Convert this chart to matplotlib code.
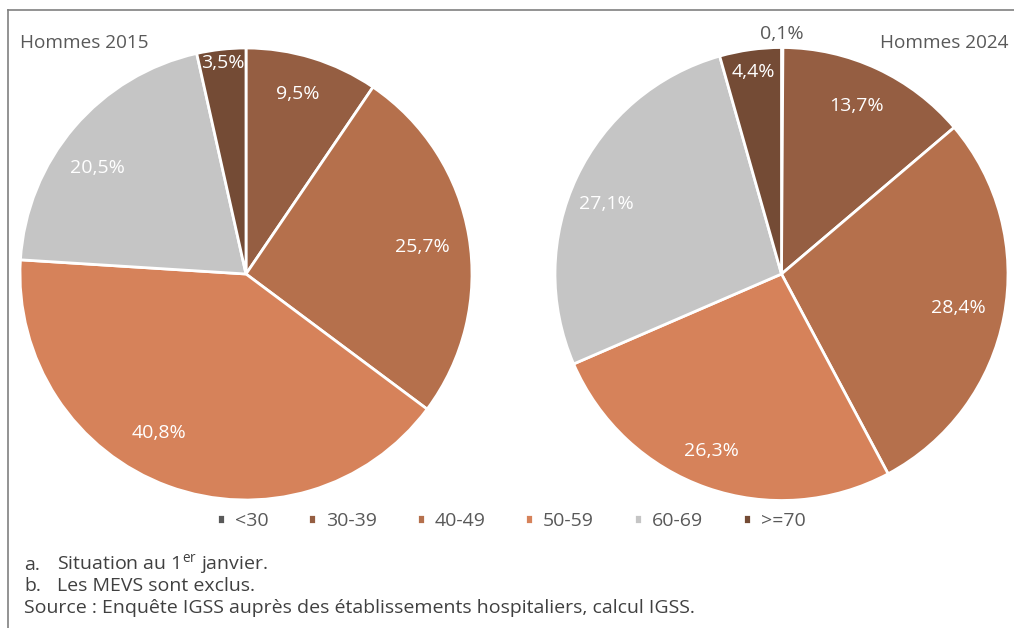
import numpy as np
import matplotlib
matplotlib.use("Agg")
import matplotlib.pyplot as plt
from matplotlib.lines import Line2D

plt.rcParams['font.family'] = ['Open Sans', 'DejaVu Sans']
plt.rcParams['mathtext.fontset'] = 'custom'
plt.rcParams['mathtext.rm'] = 'Open Sans'

# data
categories = ["<30", "30-39", "40-49", "50-59", "60-69", ">=70"]
hommes_2015 = [0.0, 9.5, 25.7, 40.8, 20.5, 3.5]
hommes_2024 = [0.1, 13.7, 28.4, 26.3, 27.1, 4.4]
colors = ["#595959", "#955E42", "#B5704C", "#D6825A", "#C5C5C5", "#744B35"]
gray = "#595959"

W, H = 1014, 628
fig = plt.figure(figsize=(W / 100, H / 100), dpi=100)


def pie_axes(cx, cy, r):
    ax = fig.add_axes([(cx - r) / W, 1 - (cy + r) / H, 2 * r / W, 2 * r / H])
    ax.axis("off")
    return ax


def draw_pie(ax, values, dist, shift):
    # dist: label distance (radius units), shift: angle tweak in degrees
    wedges, _ = ax.pie(values, colors=colors, startangle=90, counterclock=False,
                       radius=1, wedgeprops=dict(edgecolor="white", linewidth=2))
    ax.set_xlim(-1, 1)
    ax.set_ylim(-1, 1)
    for w, v, d, s in zip(wedges, values, dist, shift):
        if v <= 0:
            continue
        ang = np.deg2rad((w.theta1 + w.theta2) / 2 + s)
        col = "white" if d < 1 else gray
        ax.text(d * np.cos(ang), d * np.sin(ang), f"{v:.1f}%".replace(".", ","),
                ha="center", va="center", fontsize=14, color=col)
    return wedges


ax1 = pie_axes(246, 274, 226)
wedges = draw_pie(ax1, hommes_2015, [0, 0.83, 0.79, 0.80, 0.805, 0.94],
                  [0, 1, -1, -8.5, 5, 0])
ax2 = pie_axes(781.5, 274, 226.5)
draw_pie(ax2, hommes_2024, [1.06, 0.81, 0.795, 0.84, 0.834, 0.90],
         [0, 1, 0, -2.4, 3.7, 0])

fig.text(20 / W, 1 - 43 / H, "Hommes 2015", fontsize=13.7, color=gray, va="center")
fig.text(1008 / W, 1 - 43 / H, "Hommes 2024", fontsize=13.7, color=gray,
         va="center", ha="right")

fig.legend(wedges, categories, loc="center", bbox_to_anchor=(511 / W, 1 - 521 / H),
           ncol=6, frameon=False, fontsize=14, handlelength=0.42, handleheight=0.42,
           handletextpad=0.5, columnspacing=2.05, labelcolor=gray)

notes = [("a.", "Situation au 1$^{\\mathrm{er}}$ janvier.", 565),
         ("b.", "Les MEVS sont exclus.", 586)]
for lab, txt, y in notes:
    fig.text(24 / W, 1 - y / H, lab, fontsize=14, color="#404040", va="center")
    fig.text(57 / W, 1 - y / H, txt, fontsize=14, color="#404040", va="center")
fig.text(24 / W, 1 - 608 / H,
         "Source : Enquête IGSS auprès des établissements hospitaliers, calcul IGSS.",
         fontsize=14, color="#404040", va="center")

# frame
fig.add_artist(Line2D([8 / W, 1], [1 - 10 / H, 1 - 10 / H], color="#808080", lw=1.2,
                      transform=fig.transFigure))
fig.add_artist(Line2D([8 / W, 8 / W], [0, 1 - 10 / H], color="#808080", lw=1.2,
                      transform=fig.transFigure))

fig.savefig("out.png", dpi=100)
